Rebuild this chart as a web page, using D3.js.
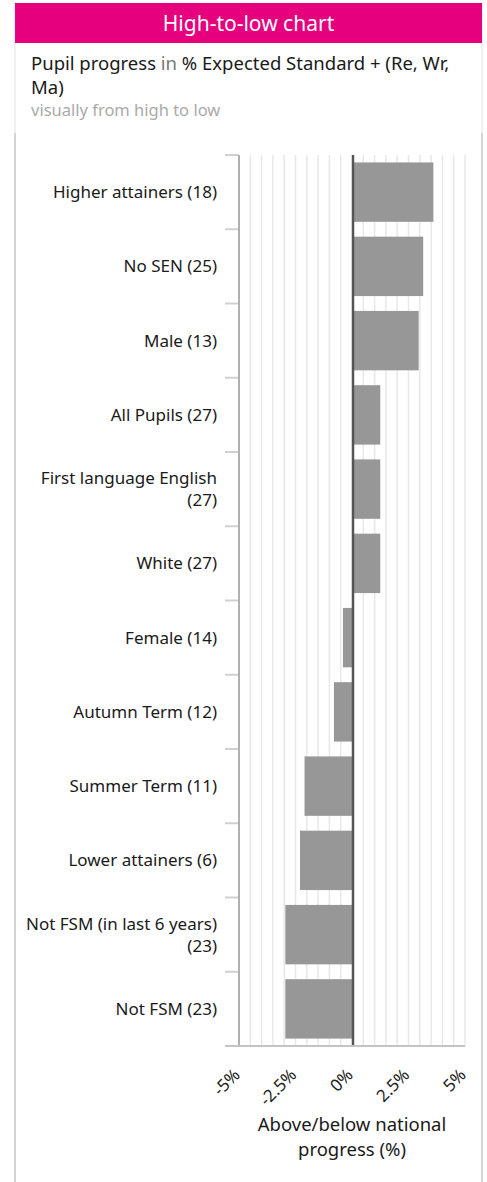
<!DOCTYPE html>
<html>
<head>
<meta charset="utf-8">
<script src="https://cdn.jsdelivr.net/npm/d3@7"></script>
<style>
  html, body { margin: 0; padding: 0; background: #fff; }
  svg { display: block; font-family: "Noto Sans", "Open Sans", sans-serif; }
</style>
</head>
<body>
<svg id="chart" width="487" height="1182"></svg>
<script>
// ── Data ────────────────────────────────────────────────────────────────
const groups = ['Higher attainers', 'No SEN', 'Male', 'All Pupils', 'First language English',
                'White', 'Female', 'Autumn Term', 'Summer Term', 'Lower attainers',
                'Not FSM (in last 6 years)', 'Not FSM'];
const counts = [18, 25, 13, 27, 27, 27, 14, 12, 11, 6, 23, 23];
const progress = [3.6, 3.15, 2.95, 1.25, 1.25, 1.25, -0.4, -0.8, -2.1, -2.3, -2.95, -2.95];
const tickValues = [-5, -2.5, 0, 2.5, 5];
const tickLabels = ['-5%', '-2.5%', '0%', '2.5%', '5%'];

const rows = groups.map((g, i) => ({ label: `${g} (${counts[i]})`, value: progress[i] }));

// ── Layout ──────────────────────────────────────────────────────────────
const svg = d3.select('#chart');
const card = { left: 15, right: 482 };
const plot = { left: 239, right: 465, top: 155, bottom: 1046 };

// Card frame
svg.append('line').attr('x1', card.left).attr('x2', card.left).attr('y1', 3).attr('y2', 133)
  .attr('stroke', '#e2e2e2').attr('stroke-width', 1);
svg.append('line').attr('x1', card.right).attr('x2', card.right).attr('y1', 3).attr('y2', 133)
  .attr('stroke', '#e2e2e2').attr('stroke-width', 1);
svg.append('line').attr('x1', card.left).attr('x2', card.left).attr('y1', 133).attr('y2', 1182)
  .attr('stroke', '#d4d4d4').attr('stroke-width', 2);
svg.append('line').attr('x1', card.right).attr('x2', card.right).attr('y1', 133).attr('y2', 1182)
  .attr('stroke', '#d4d4d4').attr('stroke-width', 2);

// Header band
svg.append('rect').attr('x', card.left).attr('y', 3)
  .attr('width', card.right - card.left).attr('height', 40).attr('fill', '#e6007e');
svg.append('text').attr('x', (card.left + card.right) / 2).attr('y', 31)
  .attr('text-anchor', 'middle').attr('fill', '#fff').attr('font-size', 21)
  .text('High-to-low chart');

// Subtitle
const sub = svg.append('text').attr('x', 31).attr('y', 70).attr('font-size', 18.5).attr('fill', '#1a1a1a');
sub.append('tspan').text('Pupil progress ');
sub.append('tspan').attr('fill', '#777').text('in');
sub.append('tspan').text(' % Expected Standard + (Re, Wr,');
svg.append('text').attr('x', 31).attr('y', 94).attr('font-size', 18.5).attr('fill', '#1a1a1a').text('Ma)');
svg.append('text').attr('x', 31).attr('y', 116).attr('font-size', 16.5).attr('fill', '#aaa')
  .text('visually from high to low');

// ── Scales ──────────────────────────────────────────────────────────────
const x = d3.scaleLinear().domain([-5, 5]).range([plot.left, plot.right]);
const y = d3.scaleBand().domain(rows.map(d => d.label))
  .range([plot.top, plot.bottom]).paddingInner(0.2).paddingOuter(0.1);

// Gridlines every 0.5%
const gridVals = d3.range(-4.5, 5.01, 0.5).filter(v => Math.abs(v) > 1e-6);
svg.append('g').selectAll('line').data(gridVals).join('line')
  .attr('x1', d => x(d)).attr('x2', d => x(d))
  .attr('y1', plot.top).attr('y2', plot.bottom)
  .attr('stroke', '#e8e8e8').attr('stroke-width', 1.5);

// Bars
svg.append('g').selectAll('rect').data(rows).join('rect')
  .attr('x', d => x(Math.min(0, d.value)))
  .attr('y', d => y(d.label))
  .attr('width', d => Math.abs(x(d.value) - x(0)))
  .attr('height', y.bandwidth())
  .attr('fill', '#979797');

// Zero line
svg.append('line').attr('x1', x(0) + 1).attr('x2', x(0) + 1)
  .attr('y1', plot.top).attr('y2', plot.bottom)
  .attr('stroke', '#555').attr('stroke-width', 2.5);

// Y axis with band-boundary ticks
const step = y.step();
const bounds = d3.range(rows.length + 1).map(i => plot.top + i * step);
svg.append('g').selectAll('line').data(bounds.slice(0, -1)).join('line')
  .attr('x1', plot.left - 14).attr('x2', plot.left)
  .attr('y1', d => d).attr('y2', d => d)
  .attr('stroke', '#d0d0d0').attr('stroke-width', 2);
svg.append('line').attr('x1', plot.left).attr('x2', plot.left)
  .attr('y1', plot.top).attr('y2', plot.bottom)
  .attr('stroke', '#b0b0b0').attr('stroke-width', 2);

// X axis baseline
svg.append('line').attr('x1', plot.left - 14).attr('x2', plot.right)
  .attr('y1', plot.bottom).attr('y2', plot.bottom)
  .attr('stroke', '#c4c4c4').attr('stroke-width', 2);

// Category labels, wrapped to width
const labelX = 217, maxW = 200, lineH = 22;
const labelG = svg.append('g').attr('font-size', 17).attr('fill', '#1a1a1a').attr('text-anchor', 'end');
rows.forEach(d => {
  const t = labelG.append('text').attr('x', labelX);
  const words = d.label.split(' ');
  let lines = [], cur = [];
  const probe = labelG.append('text');
  words.forEach(w => {
    const test = cur.concat(w).join(' ');
    probe.text(test);
    if (probe.node().getComputedTextLength() > maxW && cur.length) {
      lines.push(cur.join(' '));
      cur = [w];
    } else cur.push(w);
  });
  lines.push(cur.join(' '));
  probe.remove();
  const cy = y(d.label) + y.bandwidth() / 2;
  const y0 = cy - (lines.length - 1) * lineH / 2 + 6;
  lines.forEach((ln, i) => t.append('tspan').attr('x', labelX).attr('y', y0 + i * lineH).text(ln));
});

// X tick labels, rotated
svg.append('g').selectAll('text').data(tickValues).join('text')
  .attr('transform', d => `translate(${x(d) + 2},${plot.bottom + 30}) rotate(-45)`)
  .attr('text-anchor', 'end').attr('font-size', 17).attr('fill', '#222')
  .text((d, i) => tickLabels[i]);

// Axis title
const ttl = svg.append('text').attr('text-anchor', 'middle').attr('font-size', 18.5).attr('fill', '#1a1a1a');
ttl.append('tspan').attr('x', x(0)).attr('y', 1131).text('Above/below national');
ttl.append('tspan').attr('x', x(0)).attr('y', 1156).text('progress (%)');
</script>
</body>
</html>
